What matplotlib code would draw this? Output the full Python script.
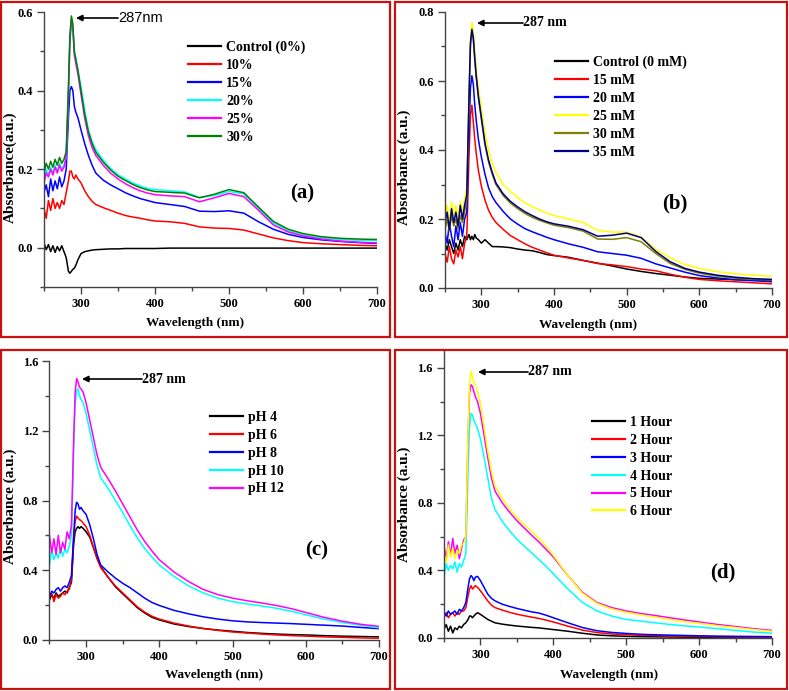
import matplotlib
matplotlib.use("Agg")
import matplotlib.pyplot as plt
from matplotlib.patches import Rectangle
from matplotlib.ticker import MultipleLocator

plt.rcParams['font.family'] = ['Liberation Serif', 'DejaVu Serif']
plt.rcParams['font.weight'] = 'bold'

wl = [250, 253, 256, 259, 262, 265, 268, 271, 274, 277, 280, 283, 285, 287, 289, 291, 293, 296, 300,
      305, 310, 315, 320, 330, 340, 350, 360, 370, 380, 390, 400, 420, 440, 460, 480, 500, 520, 540,
      560, 580, 600, 625, 650, 675, 700]

# ---------------- Panel (a) ----------------
a_labels = ['Control (0%)', '10%', '15%', '20%', '25%', '30%']
a_colors = ['black', '#ff0000', '#0000ff', '#00ffff', '#ff00ff', '#008000']
a_ctrl = [0.012, -0.005, 0.008, -0.01, 0.005, -0.012, 0.003, -0.008, 0.005, -0.01,
          -0.025, -0.06, -0.065, -0.06, -0.055, -0.052, -0.045, -0.03, -0.015,
          -0.01, -0.008, -0.006, -0.005, -0.004, -0.003, -0.003, -0.002, -0.002, -0.002, -0.002, -0.002,
          -0.001, -0.001, -0.001, -0.001, -0.001, -0.001, -0.001, -0.001, -0.001, -0.001, -0.001, -0.001, -0.001, -0.001]
a_10 = [0.10, 0.075, 0.12, 0.095, 0.125, 0.10, 0.115, 0.10, 0.12, 0.11,
        0.14, 0.17, 0.195, 0.195, 0.18, 0.175, 0.185, 0.175, 0.165,
        0.145, 0.13, 0.118, 0.11, 0.102, 0.095, 0.088, 0.082, 0.078, 0.075, 0.071, 0.068,
        0.066, 0.062, 0.053, 0.05, 0.049, 0.045, 0.035, 0.025, 0.018, 0.013, 0.01, 0.008, 0.006, 0.005]
a_15 = [0.14, 0.16, 0.13, 0.175, 0.145, 0.17, 0.15, 0.18, 0.155, 0.17,
        0.2, 0.33, 0.40, 0.41, 0.40, 0.36, 0.345, 0.33, 0.30,
        0.265, 0.235, 0.21, 0.19, 0.172, 0.16, 0.15, 0.14, 0.132, 0.125, 0.12, 0.115,
        0.11, 0.105, 0.093, 0.092, 0.094, 0.088, 0.066, 0.047, 0.034, 0.026, 0.02, 0.016, 0.013, 0.011]
a_20 = [0.17, 0.2, 0.185, 0.205, 0.19, 0.21, 0.195, 0.215, 0.2, 0.21,
        0.23, 0.38, 0.52, 0.57, 0.55, 0.50, 0.48, 0.45, 0.41,
        0.35, 0.30, 0.27, 0.25, 0.223, 0.202, 0.186, 0.175, 0.165, 0.157, 0.151, 0.148,
        0.145, 0.142, 0.128, 0.133, 0.143, 0.137, 0.10, 0.063, 0.043, 0.032, 0.025, 0.021, 0.019, 0.018]
a_25 = [0.165, 0.19, 0.18, 0.2, 0.185, 0.205, 0.19, 0.21, 0.195, 0.205,
        0.23, 0.39, 0.53, 0.58, 0.56, 0.49, 0.47, 0.44, 0.39,
        0.33, 0.285, 0.255, 0.235, 0.21, 0.19, 0.175, 0.163, 0.153, 0.145, 0.139, 0.135,
        0.132, 0.13, 0.117, 0.127, 0.138, 0.13, 0.095, 0.058, 0.04, 0.03, 0.022, 0.017, 0.014, 0.012]
a_30 = [0.19, 0.215, 0.2, 0.22, 0.205, 0.225, 0.21, 0.23, 0.215, 0.225,
        0.245, 0.41, 0.54, 0.59, 0.57, 0.50, 0.48, 0.45, 0.40,
        0.34, 0.295, 0.265, 0.243, 0.218, 0.198, 0.182, 0.171, 0.161, 0.153, 0.147, 0.143,
        0.141, 0.139, 0.127, 0.136, 0.148, 0.14, 0.103, 0.067, 0.047, 0.036, 0.028, 0.024, 0.022, 0.021]

# ---------------- Panel (b) ----------------
b_labels = ['Control (0 mM)', '15 mM', '20 mM', '25 mM', '30 mM', '35 mM']
b_colors = ['black', '#ff0000', '#0000ff', '#ffff00', '#808000', '#000080']
b_ctrl = [0.13, 0.11, 0.14, 0.12, 0.10, 0.13, 0.11, 0.14, 0.12, 0.15,
          0.14, 0.155, 0.14, 0.15, 0.14, 0.155, 0.145, 0.14, 0.13,
          0.14, 0.13, 0.12, 0.12, 0.119, 0.117, 0.113, 0.11, 0.108, 0.103, 0.097, 0.094,
          0.089, 0.08, 0.072, 0.064, 0.055, 0.048, 0.042, 0.037, 0.032, 0.028, 0.026, 0.024, 0.023, 0.022]
b_15 = [0.10, 0.075, 0.12, 0.085, 0.07, 0.11, 0.09, 0.12, 0.085, 0.13,
        0.15, 0.38, 0.50, 0.53, 0.48, 0.43, 0.39, 0.34, 0.295,
        0.255, 0.225, 0.205, 0.19, 0.17, 0.152, 0.14, 0.128, 0.118, 0.11, 0.102, 0.095,
        0.087, 0.08, 0.071, 0.067, 0.062, 0.055, 0.05, 0.04, 0.031, 0.025, 0.021, 0.018, 0.015, 0.012]
b_20 = [0.16, 0.13, 0.19, 0.15, 0.12, 0.18, 0.14, 0.19, 0.15, 0.20,
        0.22, 0.45, 0.58, 0.615, 0.59, 0.53, 0.485, 0.43, 0.38,
        0.33, 0.29, 0.265, 0.248, 0.222, 0.20, 0.185, 0.172, 0.163, 0.155, 0.147, 0.14,
        0.128, 0.118, 0.105, 0.10, 0.095, 0.086, 0.07, 0.058, 0.046, 0.036, 0.029, 0.024, 0.021, 0.018]
b_25 = [0.20, 0.24, 0.19, 0.25, 0.21, 0.24, 0.20, 0.25, 0.22, 0.26,
        0.29, 0.55, 0.72, 0.77, 0.745, 0.69, 0.635, 0.58, 0.52,
        0.45, 0.40, 0.36, 0.335, 0.30, 0.28, 0.262, 0.247, 0.236, 0.226, 0.217, 0.21,
        0.20, 0.19, 0.167, 0.162, 0.162, 0.148, 0.112, 0.087, 0.068, 0.057, 0.047, 0.041, 0.037, 0.034]
b_30 = [0.17, 0.20, 0.165, 0.21, 0.18, 0.20, 0.17, 0.21, 0.19, 0.22,
        0.26, 0.54, 0.70, 0.745, 0.72, 0.66, 0.61, 0.55, 0.49,
        0.415, 0.365, 0.33, 0.30, 0.268, 0.246, 0.23, 0.216, 0.205, 0.196, 0.189, 0.182,
        0.175, 0.165, 0.142, 0.141, 0.146, 0.134, 0.10, 0.071, 0.054, 0.043, 0.034, 0.028, 0.025, 0.023]
b_35 = [0.19, 0.22, 0.17, 0.23, 0.19, 0.22, 0.18, 0.24, 0.20, 0.24,
        0.27, 0.55, 0.71, 0.75, 0.725, 0.665, 0.615, 0.555, 0.495,
        0.42, 0.37, 0.335, 0.305, 0.273, 0.251, 0.235, 0.221, 0.21, 0.20, 0.192, 0.186,
        0.179, 0.169, 0.15, 0.153, 0.159, 0.146, 0.106, 0.076, 0.057, 0.046, 0.037, 0.031, 0.027, 0.025]

# ---------------- Panel (c) ----------------
c_labels = ['pH 4', 'pH 6', 'pH 8', 'pH 10', 'pH 12']
c_colors = ['black', '#ff0000', '#0000ff', '#00ffff', '#ff00ff']
c_4 = [0.23, 0.26, 0.24, 0.27, 0.25, 0.26, 0.27, 0.28, 0.27, 0.30,
       0.33, 0.55, 0.62, 0.64, 0.65, 0.64, 0.65, 0.64, 0.62,
       0.59, 0.53, 0.47, 0.42, 0.36, 0.305, 0.265, 0.225, 0.185, 0.155, 0.13, 0.115,
       0.092, 0.077, 0.066, 0.057, 0.05, 0.043, 0.038, 0.034, 0.031, 0.029, 0.025, 0.022, 0.02, 0.018]
c_6 = [0.25, 0.27, 0.22, 0.26, 0.24, 0.25, 0.27, 0.26, 0.28, 0.29,
       0.35, 0.58, 0.68, 0.71, 0.70, 0.69, 0.685, 0.67, 0.65,
       0.60, 0.53, 0.465, 0.415, 0.36, 0.31, 0.27, 0.23, 0.19, 0.16, 0.136, 0.12,
       0.097, 0.08, 0.066, 0.055, 0.046, 0.04, 0.034, 0.029, 0.025, 0.022, 0.018, 0.015, 0.012, 0.01]
c_8 = [0.25, 0.28, 0.27, 0.29, 0.30, 0.28, 0.30, 0.31, 0.30, 0.33,
       0.37, 0.60, 0.74, 0.79, 0.78, 0.75, 0.76, 0.74, 0.72,
       0.66, 0.58, 0.49, 0.43, 0.39, 0.355, 0.325, 0.30, 0.27, 0.24, 0.215, 0.198,
       0.17, 0.15, 0.133, 0.12, 0.11, 0.104, 0.10, 0.097, 0.094, 0.09, 0.085, 0.08, 0.072, 0.065]
c_10 = [0.43, 0.52, 0.46, 0.50, 0.47, 0.53, 0.48, 0.52, 0.50, 0.54,
        0.60, 1.10, 1.35, 1.43, 1.44, 1.40, 1.38, 1.36, 1.30,
        1.20, 1.10, 1.00, 0.93, 0.87, 0.80, 0.73, 0.655, 0.585, 0.525, 0.475, 0.43,
        0.365, 0.31, 0.27, 0.24, 0.22, 0.207, 0.195, 0.182, 0.165, 0.145, 0.12, 0.10, 0.085, 0.07]
c_12 = [0.60, 0.50, 0.58, 0.49, 0.60, 0.50, 0.56, 0.52, 0.62, 0.58,
        0.66, 1.15, 1.42, 1.50, 1.48, 1.45, 1.44, 1.42, 1.36,
        1.26, 1.16, 1.06, 0.99, 0.925, 0.855, 0.78, 0.705, 0.63, 0.565, 0.51, 0.46,
        0.39, 0.335, 0.29, 0.26, 0.24, 0.225, 0.212, 0.198, 0.18, 0.158, 0.13, 0.108, 0.09, 0.078]

# ---------------- Panel (d) ----------------
d_labels = ['1 Hour', '2 Hour', '3 Hour', '4 Hour', '5 Hour', '6 Hour']
d_colors = ['black', '#ff0000', '#0000ff', '#00ffff', '#ff00ff', '#ffff00']
d_1 = [0.05, 0.08, 0.04, 0.07, 0.03, 0.06, 0.05, 0.07, 0.06, 0.08,
       0.09, 0.11, 0.13, 0.13, 0.12, 0.13, 0.14, 0.15, 0.14,
       0.125, 0.11, 0.10, 0.09, 0.082, 0.076, 0.071, 0.067, 0.063, 0.06, 0.055, 0.05,
       0.04, 0.028, 0.018, 0.013, 0.01, 0.008, 0.007, 0.006, 0.005, 0.005, 0.004, 0.004, 0.003, 0.003]
d_2 = [0.13, 0.15, 0.12, 0.14, 0.15, 0.13, 0.15, 0.14, 0.16, 0.16,
       0.18, 0.25, 0.29, 0.31, 0.29, 0.30, 0.31, 0.30, 0.28,
       0.25, 0.22, 0.195, 0.18, 0.165, 0.152, 0.141, 0.132, 0.124, 0.116, 0.106, 0.095,
       0.07, 0.047, 0.032, 0.024, 0.019, 0.016, 0.014, 0.012, 0.011, 0.01, 0.008, 0.007, 0.006, 0.005]
d_3 = [0.15, 0.13, 0.16, 0.14, 0.15, 0.16, 0.14, 0.17, 0.16, 0.18,
       0.21, 0.30, 0.35, 0.37, 0.36, 0.34, 0.36, 0.365, 0.34,
       0.30, 0.26, 0.235, 0.22, 0.20, 0.187, 0.175, 0.165, 0.155, 0.148, 0.135, 0.12,
       0.09, 0.062, 0.043, 0.033, 0.027, 0.022, 0.019, 0.017, 0.015, 0.013, 0.011, 0.01, 0.009, 0.008]
d_4 = [0.36, 0.44, 0.40, 0.43, 0.41, 0.45, 0.39, 0.44, 0.42, 0.46,
       0.50, 1.00, 1.25, 1.33, 1.32, 1.29, 1.27, 1.24, 1.18,
       1.07, 0.95, 0.83, 0.76, 0.69, 0.635, 0.585, 0.545, 0.505, 0.465, 0.425, 0.38,
       0.29, 0.21, 0.16, 0.13, 0.11, 0.10, 0.09, 0.08, 0.072, 0.065, 0.055, 0.045, 0.035, 0.028]
d_5 = [0.55, 0.46, 0.57, 0.49, 0.59, 0.50, 0.55, 0.47, 0.53, 0.58,
       0.60, 1.20, 1.45, 1.50, 1.49, 1.46, 1.43, 1.40, 1.33,
       1.20, 1.07, 0.95, 0.87, 0.80, 0.745, 0.695, 0.652, 0.61, 0.57, 0.525, 0.48,
       0.37, 0.27, 0.21, 0.18, 0.16, 0.145, 0.133, 0.12, 0.107, 0.095, 0.08, 0.068, 0.055, 0.045]
d_6 = [0.50, 0.45, 0.55, 0.48, 0.53, 0.47, 0.52, 0.50, 0.55, 0.56,
       0.60, 1.22, 1.50, 1.58, 1.55, 1.51, 1.50, 1.46, 1.39,
       1.25, 1.11, 0.99, 0.90, 0.825, 0.765, 0.715, 0.672, 0.632, 0.592, 0.545, 0.49,
       0.37, 0.265, 0.205, 0.172, 0.152, 0.137, 0.123, 0.11, 0.097, 0.087, 0.073, 0.062, 0.05, 0.04]

W, H = 789, 691
fig = plt.figure(figsize=(W / 100, H / 100), dpi=100)


def ax_at(x0, y0, x1, y1):
    return fig.add_axes([x0 / W, 1 - y1 / H, (x1 - x0) / W, (y1 - y0) / H])


panels = [
    dict(box=(1, 2, 390, 337), ax=(44, 12, 377, 287), series=[a_ctrl, a_10, a_15, a_20, a_25, a_30],
         labels=a_labels, colors=a_colors, ylim=(-0.1, 0.6), ylabel='Absorbance(a.u.)', tag='(a)',
         tagpos=(302, 193), leg=(188, 41), arrow=(118, 76, 18), atext='287nm', asans=True,
         xlc=(195.5, 317), ylc=(17, 167)),
    dict(box=(395, 2, 787, 337), ax=(445, 12, 772, 288), series=[b_ctrl, b_15, b_20, b_25, b_30, b_35],
         labels=b_labels, colors=b_colors, ylim=(0, 0.8), ylabel='Absorbance (a.u.)', tag='(b)',
         tagpos=(675, 203), leg=(555, 56), arrow=(523, 477, 23), atext='287 nm', asans=False,
         xlc=(588, 319), ylc=(411, 167)),
    dict(box=(1, 350, 390, 689), ax=(49.5, 361, 379, 640), series=[c_4, c_6, c_8, c_10, c_12],
         labels=c_labels, colors=c_colors, ylim=(0, 1.6), ylabel='Absorbance (a.u.)', tag='(c)',
         tagpos=(317, 550), leg=(210, 411), arrow=(142, 82, 379), atext='287 nm', asans=False,
         xlc=(214, 669), ylc=(17, 506)),
    dict(box=(395, 350, 787, 689), ax=(444, 351, 772, 638), series=[d_1, d_2, d_3, d_4, d_5, d_6],
         labels=d_labels, colors=d_colors, ylim=(0, 1.7), ylabel='Absorbance (a.u.)', tag='(d)',
         tagpos=(723, 572), leg=(592, 416), arrow=(528, 478, 372), atext='287 nm', asans=False,
         xlc=(609, 669), ylc=(411, 504)),
]

for p in panels:
    x0, y0, x1, y1 = p['box']
    fig.patches.append(Rectangle((x0 / W, 1 - y1 / H), (x1 - x0) / W, (y1 - y0) / H,
                                 transform=fig.transFigure, fill=False, edgecolor='#cc1010',
                                 linewidth=1.6, zorder=0))
    ax = ax_at(*p['ax'])
    for ys, lab, col in zip(p['series'], p['labels'], p['colors']):
        ax.plot(wl, ys, color=col, lw=1.1, label=lab)
    ax.set_xlim(250, 700)
    ax.set_ylim(*p['ylim'])
    ax.xaxis.set_minor_locator(MultipleLocator(50))
    if p['ylim'][1] <= 0.8:
        ax.yaxis.set_major_locator(MultipleLocator(0.2))
        ax.yaxis.set_minor_locator(MultipleLocator(0.1))
    else:
        ax.yaxis.set_major_locator(MultipleLocator(0.4))
        ax.yaxis.set_minor_locator(MultipleLocator(0.2))
    ax.set_xticks([300, 400, 500, 600, 700])
    ax.yaxis.set_major_formatter(matplotlib.ticker.FormatStrFormatter('%.1f'))
    for s in ['top', 'right']:
        ax.spines[s].set_visible(False)
    for s in ['left', 'bottom']:
        ax.spines[s].set_color('#444444')
        ax.spines[s].set_linewidth(1.0)
    ax.tick_params(which='major', direction='out', length=5, width=1, color='#444444',
                   labelsize=9, pad=3)
    ax.tick_params(which='minor', direction='out', length=3, width=1, color='#444444')
    for t in ax.get_xticklabels() + ax.get_yticklabels():
        t.set_fontweight('bold')
    ax.set_xlabel('Wavelength (nm)', fontsize=9.5, fontweight='bold')
    ax.set_ylabel(p['ylabel'], fontsize=11, fontweight='bold')
    ax0, ay0, ax1, ay1 = p['ax']
    xx, xy = p['xlc']
    ax.xaxis.set_label_coords((xx - ax0) / (ax1 - ax0), -(xy - ay1) / (ay1 - ay0))
    yx, yy = p['ylc']
    ax.yaxis.set_label_coords((yx - ax0) / (ax1 - ax0), 1 - (yy - ay0) / (ay1 - ay0))
    lx, ly = p['leg']
    leg = ax.legend(loc='upper left', bbox_to_anchor=(lx / W, 1 - ly / H), bbox_transform=fig.transFigure,
                    frameon=False, fontsize=10, handlelength=2.4, handletextpad=0.35,
                    labelspacing=0.35, borderaxespad=0, borderpad=0)
    for t in leg.get_texts():
        t.set_fontweight('bold')
    for l in leg.get_lines():
        l.set_linewidth(1.6)
    tx, ty = p['tagpos']
    fig.text(tx / W, 1 - ty / H, p['tag'], fontsize=15, fontweight='bold', ha='center', va='center')
    ax_s, ax_e, ay = p['arrow']
    ax.annotate('', xy=(ax_e / W, 1 - ay / H), xytext=(ax_s / W, 1 - ay / H),
                xycoords='figure fraction', textcoords='figure fraction',
                arrowprops=dict(arrowstyle='-|>', color='black', lw=1.2, mutation_scale=9,
                                shrinkA=0, shrinkB=0))
    if p['asans']:
        fig.text(ax_s / W, 1 - ay / H, p['atext'], fontsize=10.5, ha='left', va='center',
                 family=['Liberation Sans', 'DejaVu Sans'], fontweight='normal')
    else:
        fig.text(ax_s / W, 1 - ay / H, p['atext'], fontsize=10, ha='left', va='center',
                 fontweight='bold')

fig.savefig('out.png', dpi=100)
